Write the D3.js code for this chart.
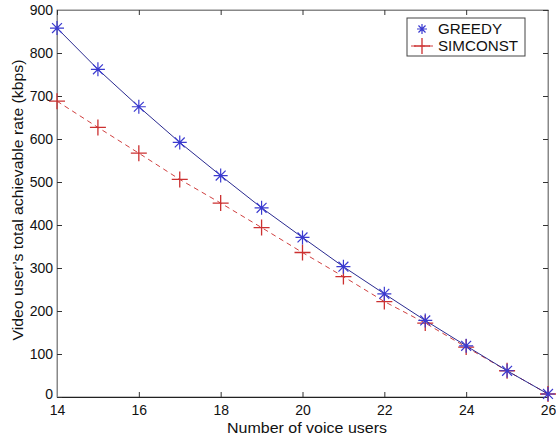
<!DOCTYPE html>
<html><head><meta charset="utf-8">
<script src="https://cdn.jsdelivr.net/npm/d3@7"></script>
<style>body{margin:0;background:#fff}svg{display:block}text{font-family:"Liberation Sans",Arial,sans-serif;fill:#111}</style>
</head><body><svg id="c" width="556" height="439"></svg>
<script>
const voiceUsers = [14,15,16,17,18,19,20,21,22,23,24,25,26];
const greedy =   [858,762,675,592,515,440,371,303,240,178,119,61,7];
const simconst = [688,627,567,506,451,394,336,280,222,172,116,61,7];
const xTicks = [14,16,18,20,22,24,26];
const yTicks = [0,100,200,300,400,500,600,700,800,900];

const svg = d3.select("#c");
const L=57,R=548,T=10,B=397;
const x = d3.scaleLinear().domain([14,26]).range([L,R]);
const y = d3.scaleLinear().domain([0,900]).range([B,T]);

svg.append("rect").attr("x",L).attr("y",T).attr("width",R-L).attr("height",B-T)
  .attr("fill","none").attr("stroke","#888").attr("stroke-width",1);

const fmt = d=>d;
const FS = 14;
const ax = svg.append("g").attr("transform",`translate(0,${B})`)
  .call(d3.axisBottom(x).tickValues(xTicks).tickFormat(fmt).tickSizeInner(-5).tickSizeOuter(0).tickPadding(3));
const ay = svg.append("g").attr("transform",`translate(${L},0)`)
  .call(d3.axisLeft(y).tickValues(yTicks).tickFormat(fmt).tickSizeInner(-5).tickSizeOuter(0).tickPadding(4));
const at = svg.append("g").attr("transform",`translate(0,${T})`)
  .call(d3.axisTop(x).tickValues(xTicks).tickFormat("").tickSizeInner(-5).tickSizeOuter(0));
const ar = svg.append("g").attr("transform",`translate(${R},0)`)
  .call(d3.axisRight(y).tickValues(yTicks).tickFormat("").tickSizeInner(-5).tickSizeOuter(0));
[ax,ay,at,ar].forEach(g=>{g.select(".domain").attr("stroke","#888");g.selectAll(".tick line").attr("stroke","#333");
  g.selectAll("text").attr("font-size",FS).attr("fill","#111").style("font-family","'Liberation Sans',Arial,sans-serif");});
ax.select(".domain").attr("stroke","#222");
ax.selectAll("text").attr("dy","1.05em");
ay.selectAll(".tick text").attr("dy","0.3em");
ay.selectAll(".tick").filter(d=>d===0).select("text").attr("dy","0.1em");

const line = d3.line().x((d,i)=>x(voiceUsers[i])).y(d=>y(d));
svg.append("path").datum(simconst).attr("d",line).attr("fill","none")
  .attr("stroke","#d04040").attr("stroke-width",1).attr("stroke-dasharray","5,4");
svg.append("path").datum(greedy).attr("d",line).attr("fill","none")
  .attr("stroke","#2a2a90").attr("stroke-width",1);

function plus(g,cx,cy,s,col){
  g.append("path").attr("d",`M${cx-s},${cy}H${cx+s}M${cx},${cy-s}V${cy+s}`).attr("stroke",col).attr("stroke-width",1.3).attr("fill","none");
}
function star(g,cx,cy,s,col){
  const d=s*0.707;
  g.append("path").attr("d",`M${cx-s},${cy}H${cx+s}M${cx},${cy-s}V${cy+s}M${cx-d},${cy-d}L${cx+d},${cy+d}M${cx-d},${cy+d}L${cx+d},${cy-d}`)
   .attr("stroke",col).attr("stroke-width",1.2).attr("fill","none");
}
const gm = svg.append("g");
simconst.forEach((v,i)=>plus(gm,x(voiceUsers[i]),y(v),8,"#cc3030"));
greedy.forEach((v,i)=>star(gm,x(voiceUsers[i]),y(v),7,"#3a3ad0"));

// legend
const lg = svg.append("g");
lg.append("rect").attr("x",407).attr("y",18).attr("width",118).attr("height",38).attr("fill","#fff").attr("stroke","#444");
star(lg,422,29,5,"#3a3ad0");
plus(lg,422,46,8,"#cc3030");
lg.append("line").attr("x1",411).attr("x2",433).attr("y1",46).attr("y2",46).attr("stroke","#d04040").attr("stroke-dasharray","5,4");
lg.append("text").attr("x",438).attr("y",33.5).attr("font-size",FS).attr("textLength",64).attr("lengthAdjust","spacingAndGlyphs").text("GREEDY");
lg.append("text").attr("x",438).attr("y",51).attr("font-size",FS).attr("textLength",80).attr("lengthAdjust","spacingAndGlyphs").text("SIMCONST");

svg.append("text").attr("x",307).attr("y",433).attr("text-anchor","middle").attr("font-size",14.5)
  .attr("textLength",160).attr("lengthAdjust","spacingAndGlyphs").text("Number of voice users");
svg.append("text").attr("transform",`translate(23,200) rotate(-90)`).attr("text-anchor","middle").attr("font-size",14.3)
  .attr("textLength",281).attr("lengthAdjust","spacingAndGlyphs")
  .text("Video user\u2019s total achievable rate (kbps)");
</script></body></html>
